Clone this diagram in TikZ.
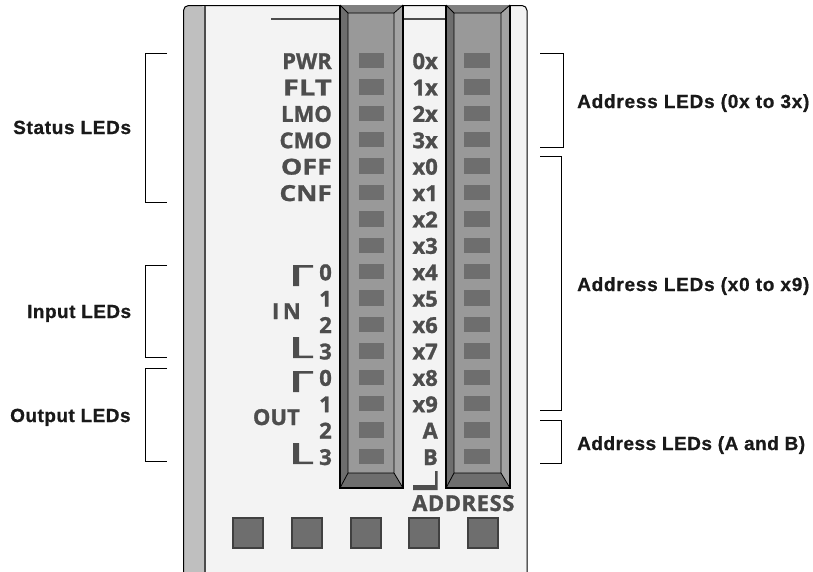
\documentclass[tikz,border=0pt]{standalone}
\usepackage{fontspec,graphicx}
\setmainfont{Liberation Sans}[LetterSpace=4,BoldFeatures={FakeBold=0.8}]
\newfontfamily\panelfont{Open Sans}[BoldFont={Open Sans Bold},BoldFeatures={FakeBold=1.2}]
\definecolor{paneltext}{HTML}{4D4D4D}
\definecolor{ledgray}{HTML}{6E6E6E}
\definecolor{wingray}{HTML}{999999}
\definecolor{topgray}{HTML}{808080}
\definecolor{body}{HTML}{F3F3F3}
\newcommand{\spc}[2]{{\addfontfeature{LetterSpace=#1}#2}}
\tikzset{
  plab/.style={anchor=base east,inner sep=0pt,text=paneltext,font=\panelfont\bfseries\fontsize{22}{22}\selectfont},
  call/.style={anchor=base west,inner sep=0pt,text=black!90,font=\bfseries\fontsize{19}{19}\selectfont},
  ledbox/.style={fill=ledgray,draw=none,minimum width=25.5pt,minimum height=15.5pt,inner sep=0pt},
  keybox/.style={fill=ledgray,draw=black!75,line width=1.2pt,minimum width=30pt,minimum height=30pt,inner sep=0pt},
  brk/.style={draw=black,line width=0.8pt},
}
\newcommand{\winshape}[2]{%
  \fill[ledgray] (#1,5) -- (#1+8,13) -- (#1+8,473) -- (#1,488) -- cycle;
  \fill[wingray!90!white] (#2,5) -- (#2-9,13) -- (#2-9,473) -- (#2,488) -- cycle;
  \fill[wingray] (#1+8,13) rectangle (#2-9,473);
  \fill[topgray] (#1,5) -- (#2,5) -- (#2-9,13) -- (#1+8,13) -- cycle;
  \fill[ledgray] (#1,488) -- (#2,488) -- (#2-9,473) -- (#1+8,473) -- cycle;
  \draw[black,line width=0.8pt] (#1,5) -- (#1+8,13) -- (#1+8,473) -- (#1,488)
     (#2,5) -- (#2-9,13) -- (#2-9,473) -- (#2,488) (#1+8,13) -- (#2-9,13) (#1+8,473) -- (#2-9,473);
  \draw[black,line width=2.4pt] (#1,5) -- (#1,488) -- (#2,488) -- (#2,5);
}
\newcommand{\markup}[1]{\fill[paneltext] (293,#1) -- (313,#1) -- (313,#1+2.5) -- (299,#1+2.5) -- (299,#1+21) -- (293,#1+21) -- cycle;}
\newcommand{\markdn}[1]{\fill[paneltext] (293,#1) -- (313,#1) -- (313,#1-2.5) -- (299,#1-2.5) -- (299,#1-21) -- (293,#1-21) -- cycle;}
\begin{document}
\begin{tikzpicture}[x=1pt,y=-1pt]
\useasboundingbox (0,0) rectangle (813,571);
\fill[white] (0,0) rectangle (813,571);
% body
\fill[body,rounded corners=5pt] (183.5,5.5) rectangle (527,580);
\begin{scope}
\clip (0,0) rectangle (813,571);
\fill[black!25,rounded corners=5pt] (183.5,5.5) -- (205,5.5) -- (205,580) -- (183.5,580) -- cycle;
\draw[black,line width=1pt,rounded corners=5pt] (183.5,580) -- (183.5,5.5) -- (527,5.5) -- (527,580);
\draw[black!70,line width=1.5pt] (205,5.5) -- (205,580);
\end{scope}
\draw[black!70,line width=1.8pt] (271,19) -- (340,19) (403,19) -- (446,19);
\winshape{340}{403}
\winshape{446}{510}
% LEDs
\foreach \i in {0,...,15}{
  \node[ledbox] (la\i) at (371.5,60.5+26.4*\i) {};
  \node[ledbox] (lb\i) at (477,60.5+26.4*\i) {};
}
% left labels
\foreach \t/\i in {PWR/0,LMO/2,CMO/3,0/8,1/9,2/10,3/11,0/12,1/13,2/14,3/15}{
  \node[plab] (pl\i) at (332,69+26.4*\i) {\t};
}
\node[plab] (pl1) at (332,95.4) {\scalebox{1.33}[1]{FLT}};
\node[plab] (pl4) at (332,174.6) {\scalebox{1.22}[1]{OFF}};
\node[plab] (pl5) at (332,201) {\scalebox{1.19}[1]{CNF}};
\foreach \t/\i in {0x/0,1x/1,2x/2,3x/3,x0/4,x1/5,x2/6,x3/7,x4/8,x5/9,x6/10,x7/11,x8/12,x9/13,A/14,B/15}{
  \node[plab] (pr\i) at (438,69+26.4*\i) {\t};
}
\node[plab] (inl) at (301,319) {I\,N};
\node[plab] (outl) at (300,425) {OUT};
\node[plab,anchor=base west] (addr) at (412,511) {\spc{2.6}{ADDRESS}};
% section marks
\markup{265}
\markdn{358}
\markup{371}
\markdn{464}
\fill[paneltext] (413,485) -- (435,485) -- (435,471) -- (437.5,471) -- (437.5,490) -- (413,490) -- cycle;
% keys
\foreach \x/\n in {248/a,307/b,366/c,424/d,483/e}{
  \node[keybox] (k\n) at (\x,533) {};
}
% brackets
\draw[brk] (167,53.5) -- (145.5,53.5) -- (145.5,202.5) -- (167,202.5);
\draw[brk] (167,265.5) -- (145.5,265.5) -- (145.5,357.5) -- (167,357.5);
\draw[brk] (167,368.5) -- (145.5,368.5) -- (145.5,461.5) -- (167,461.5);
\draw[brk] (540,53.5) -- (563.5,53.5) -- (563.5,147.5) -- (540,147.5);
\draw[brk] (540,156.5) -- (561.5,156.5) -- (561.5,410.5) -- (540,410.5);
\draw[brk] (540,420.5) -- (561.5,420.5) -- (561.5,463.5) -- (540,463.5);
% callouts
\node[call] (c1) at (13,134) {\spc{3.5}{Status LEDs}};
\node[call] (c2) at (27,318) {\spc{2.4}{Input LEDs}};
\node[call] (c3) at (10,422) {\spc{2.5}{Output LEDs}};
\node[call] (c4) at (577,108) {Address LEDs (0x to 3x)};
\node[call] (c5) at (577,291) {Address LEDs (x0 to x9)};
\node[call] (c6) at (577,450) {\spc{2.6}{Address LEDs (A and B)}};
\end{tikzpicture}
\end{document}
